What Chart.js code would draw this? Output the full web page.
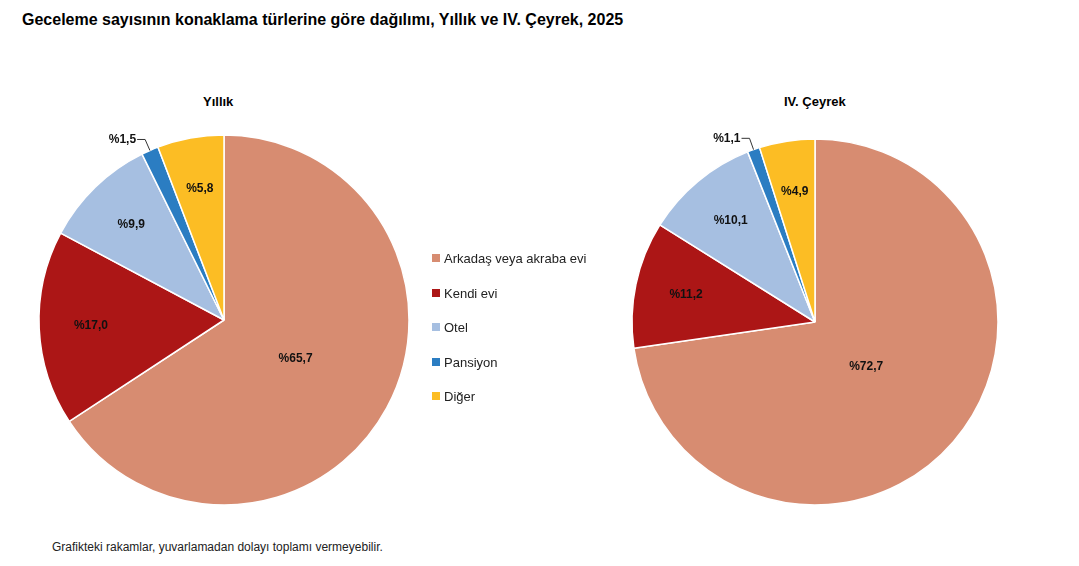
<!DOCTYPE html>
<html><head><meta charset="utf-8">
<script src="https://cdn.jsdelivr.net/npm/chart.js@4"></script>
<style>
body{margin:0;width:1079px;height:566px;background:#fff;font-family:"Liberation Sans",Arial,sans-serif;position:relative;overflow:hidden}
.t{position:absolute;white-space:nowrap;color:#000}
canvas{position:absolute}
.lg{position:absolute;left:432px;font-size:13px;color:#222}
.lg span{display:inline-block;width:8px;height:8px;margin-right:4px;vertical-align:1px}
</style></head><body>
<div class="t" style="left:22px;top:11px;font-size:16px;font-weight:bold">Geceleme sayısının konaklama türlerine göre dağılımı, Yıllık ve IV. Çeyrek, 2025</div>
<div class="t" style="left:203px;top:94px;font-size:13px;font-weight:bold">Yıllık</div>
<div class="t" style="left:784px;top:94px;font-size:13px;font-weight:bold">IV. Çeyrek</div>
<div class="t" style="left:52px;top:540px;font-size:12px;color:#222">Grafikteki rakamlar, yuvarlamadan dolayı toplamı vermeyebilir.</div>
<canvas id="c1" width="420" height="420" style="left:14px;top:110px"></canvas>
<canvas id="c2" width="420" height="420" style="left:605px;top:112px"></canvas>
<div id="legend"></div>
<script>
const categories = ['Arkadaş veya akraba evi', 'Kendi evi', 'Otel', 'Pansiyon', 'Diğer']
const yearlyValues = [65.7, 17.0, 9.9, 1.5, 5.8]
const quarterValues = [72.7, 11.2, 10.1, 1.1, 4.9]
const colors = ['#D78C71', '#AC1616', '#A6BFE1', '#2B7DC2', '#FCBD24']

// legend
let legend = document.getElementById('legend')
categories.forEach((c, i) => {
    legend.innerHTML += `<div class="lg" style="top:${251 + i * 34.5}px"><span style="background:${colors[i]}"></span>${c}</div>`
})

let fmt = v => '%' + v.toFixed(1).replace('.', ',')

// draws value labels; small slice gets an outside label with leader line
let labelPlugin = {
    id: 'labels',
    afterDatasetsDraw(chart, args, opts) {
        let c = chart.ctx
        let meta = chart.getDatasetMeta(0)
        let vals = chart.data.datasets[0].data
        c.save()
        c.font = 'bold 12px "Liberation Sans", Arial'
        c.fillStyle = '#111'
        c.textAlign = 'center'
        c.textBaseline = 'middle'
        meta.data.forEach((arc, i) => {
            let a = (arc.startAngle + arc.endAngle) / 2
            let r = arc.outerRadius
            if (vals[i] < 2) {
                let px = arc.x + Math.cos(a) * r, py = arc.y + Math.sin(a) * r
                let ex = arc.x + Math.cos(a) * (r + 12), ey = arc.y + Math.sin(a) * (r + 12)
                c.strokeStyle = '#333'
                c.lineWidth = 1
                c.beginPath()
                c.moveTo(px, py); c.lineTo(ex, ey); c.lineTo(ex - 8, ey)
                c.stroke()
                c.textAlign = 'right'
                c.fillText(fmt(vals[i]), ex - 9, ey)
                c.textAlign = 'center'
            } else {
                let f = i === 0 ? opts.big : opts.small
                c.fillText(fmt(vals[i]), arc.x + Math.cos(a) * r * f, arc.y + Math.sin(a) * r * f)
            }
        })
        c.restore()
    }
}

let makePie = function(id, values, radius, big) {
    return new Chart(document.getElementById(id), {
        type: 'pie',
        data: {
            labels: categories,
            datasets: [{ data: values, backgroundColor: colors, borderColor: '#fff', borderWidth: 1.5 }]
        },
        options: {
            responsive: false,
            animation: false,
            radius: radius,
            plugins: { legend: { display: false }, tooltip: { enabled: false }, labels: { big: big, small: 0.72 } }
        },
        plugins: [labelPlugin]
    })
}

makePie('c1', yearlyValues, 185, 0.44)
makePie('c2', quarterValues, 183, 0.37)
</script>
</body></html>
